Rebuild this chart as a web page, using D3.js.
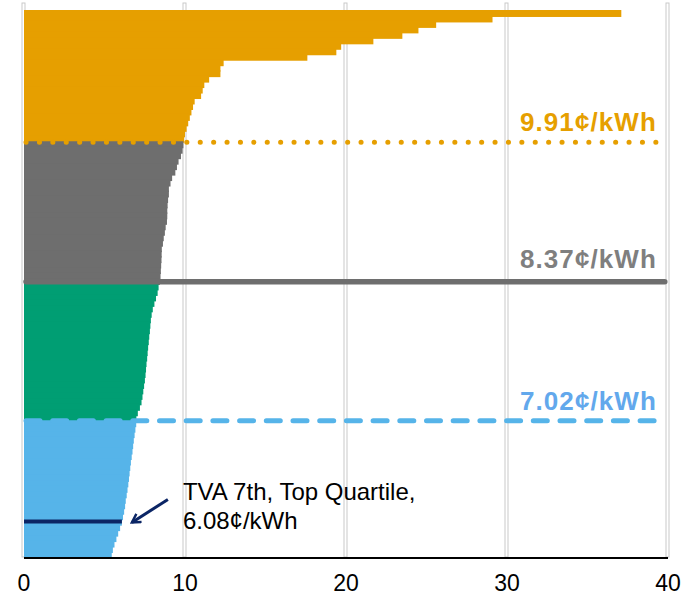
<!DOCTYPE html>
<html>
<head>
<meta charset="utf-8">
<script src="https://cdn.jsdelivr.net/npm/d3@7"></script>
<style>
  body { margin: 0; background: #fff; }
  text { font-family: "Liberation Sans", Arial, sans-serif; }
  .tick-label { font-family: "Liberation Sans Narrow", "Arial Narrow", "Liberation Sans", sans-serif; }
</style>
</head>
<body>
<div id="chart"></div>
<script>
// retail rates (cents/kWh), sorted high to low, one array per quartile
const orangeValues = [37.1, 29.1, 25.6, 24.5, 23.5, 21.7, 19.7, 19.4, 17.6, 12.4, 12.2, 12.2,
    11.5, 11.2, 11.1, 11.0, 10.6, 10.5, 10.4, 10.3, 10.2, 10.1, 10.0, 9.95];
const grayValues = [9.9, 9.85, 9.75, 9.6, 9.5, 9.4, 9.2, 9.1, 9.0, 9.0, 8.95, 8.92, 8.9,
    8.9, 8.88, 8.8, 8.75, 8.68, 8.63, 8.56, 8.55, 8.54, 8.52, 8.5, 8.48, 8.44];
const greenValues = [8.36, 8.3, 8.2, 8.1, 8.0, 7.93, 7.88, 7.85, 7.82, 7.78, 7.75, 7.71, 7.68,
    7.65, 7.61, 7.58, 7.55, 7.51, 7.46, 7.41, 7.36, 7.3, 7.2, 7.07, 6.98];
const blueValues = [6.97, 6.92, 6.87, 6.82, 6.78, 6.74, 6.69, 6.64, 6.6, 6.56, 6.52, 6.48, 6.43,
    6.38, 6.32, 6.28, 6.22, 6.15, 6.08, 5.97, 5.85, 5.74, 5.62, 5.52, 5.45];

// quartile reference lines
const refValues = [9.91, 8.37, 7.02];
const refLabels = ["9.91¢/kWh", "8.37¢/kWh", "7.02¢/kWh"];

const xTicks = [0, 10, 20, 30, 40];

// highlighted utility
const tvaValue = 6.08;
const tvaLines = ["TVA 7th, Top Quartile,", "6.08¢/kWh"];

const w = 688, h = 596;
const groupColors = ["#e69f00", "#6e6e6e", "#009e73", "#56b4e9"];
const refColors = ["#e69f00", "#6e6e6e", "#56b4e9"];
const refLabelColors = ["#e69f00", "#7f7f7f", "#62a8ec"];

// flatten groups into ranked rows
let groups = [orangeValues, grayValues, greenValues, blueValues];
let rows = [];
groups.forEach(function(vals, g) {
    vals.forEach(function(v) { rows.push({ rank: rows.length, value: v, group: g }); });
});
// reference line sits at the bottom edge of each of the first three groups
let groupEnds = [];
let acc = 0;
groups.forEach(function(vals) { acc += vals.length; groupEnds.push(acc); });

let svg = d3.select("#chart").append("svg")
    .attr("width", w)
    .attr("height", h);

// scales
var xScale = d3.scaleLinear().domain([0, 40]).range([24, 668]);
var yScale = d3.scaleBand().domain(d3.range(rows.length)).range([10, 557]).padding(0);
var bw = yScale.bandwidth();
function edge(i) { return yScale.range()[0] + i * bw; }

// vertical gridlines (drawn as thin outlined strips)
svg.append("g").selectAll("rect")
    .data(xTicks)
    .join("rect")
    .attr("x", d => xScale(d) - 2)
    .attr("y", 3)
    .attr("width", 3)
    .attr("height", 557 - 3)
    .attr("fill", "#fff")
    .attr("stroke", "#c9c9c9")
    .attr("stroke-width", 1);

// bars (a little overlap so no seams show between rows)
svg.append("g").selectAll("rect")
    .data(rows)
    .join("rect")
    .attr("x", xScale(0))
    .attr("y", d => yScale(d.rank))
    .attr("width", d => xScale(d.value) - xScale(0))
    .attr("height", d => d.rank == rows.length - 1 ? bw : bw + 1.5)
    .attr("fill", d => groupColors[d.group]);

// x axis line
svg.append("line")
    .attr("x1", xScale(0))
    .attr("x2", xScale(40))
    .attr("y1", 558)
    .attr("y2", 558)
    .attr("stroke", "#000")
    .attr("stroke-width", 2);

// tick labels
svg.append("g").selectAll("text")
    .data(xTicks)
    .join("text")
    .attr("class", "tick-label")
    .attr("x", d => xScale(d))
    .attr("y", 591)
    .attr("text-anchor", "middle")
    .attr("font-size", 23)
    .attr("fill", "#000")
    .text(d => d);

// reference lines: dotted, solid, dashed
let refStyles = [
    { width: 5, dash: "0.1 13.3", offset: 1 },
    { width: 5.5, dash: null, offset: -1.8 },
    { width: 5, dash: "14 12.7", offset: 0.4 }
];
refValues.forEach(function(v, i) {
    let yy = edge(groupEnds[i]) + refStyles[i].offset;
    svg.append("line")
        .attr("x1", xScale(0) + 2)
        .attr("x2", i == 1 ? xScale(39.8) : xScale(39.5))
        .attr("y1", yy)
        .attr("y2", yy)
        .attr("stroke", refColors[i])
        .attr("stroke-width", refStyles[i].width)
        .attr("stroke-linecap", "round")
        .attr("stroke-dasharray", refStyles[i].dash);
    svg.append("text")
        .attr("x", 657)
        .attr("y", yy - (i == 1 ? 13.5 : 11))
        .attr("text-anchor", "end")
        .attr("font-size", 26)
        .attr("font-weight", "bold")
        .attr("letter-spacing", 1.1)
        .attr("fill", refLabelColors[i])
        .text(refLabels[i]);
});

// TVA marker line
let tva = rows.find(d => d.group == 3 && d.value == tvaValue);
let tvaY = yScale(tva.rank) + bw / 2;
svg.append("line")
    .attr("x1", xScale(0))
    .attr("x2", xScale(tvaValue))
    .attr("y1", tvaY)
    .attr("y2", tvaY)
    .attr("stroke", "#0b2565")
    .attr("stroke-width", 4);

// arrow pointing at it
svg.append("defs").append("marker")
    .attr("id", "arrowhead")
    .attr("viewBox", "0 0 10 10")
    .attr("refX", 8)
    .attr("refY", 5)
    .attr("markerWidth", 4)
    .attr("markerHeight", 4)
    .attr("orient", "auto")
    .append("path")
    .attr("d", "M1,1 L8,5 L1,9")
    .attr("fill", "none")
    .attr("stroke", "#0b2565")
    .attr("stroke-width", 2);

svg.append("line")
    .attr("x1", xScale(tvaValue) + 46)
    .attr("y1", tvaY - 22)
    .attr("x2", xScale(tvaValue) + 10)
    .attr("y2", tvaY + 1)
    .attr("stroke", "#0b2565")
    .attr("stroke-width", 3)
    .attr("marker-end", "url(#arrowhead)");

svg.append("text")
    .attr("x", xScale(tvaValue) + 61)
    .attr("y", tvaY - 21)
    .attr("font-size", 24)
    .attr("fill", "#000")
    .selectAll("tspan")
    .data(tvaLines)
    .join("tspan")
    .attr("x", xScale(tvaValue) + 61)
    .attr("dy", (d, i) => i == 0 ? 0 : 28.5)
    .text(d => d);
</script>
</body>
</html>
